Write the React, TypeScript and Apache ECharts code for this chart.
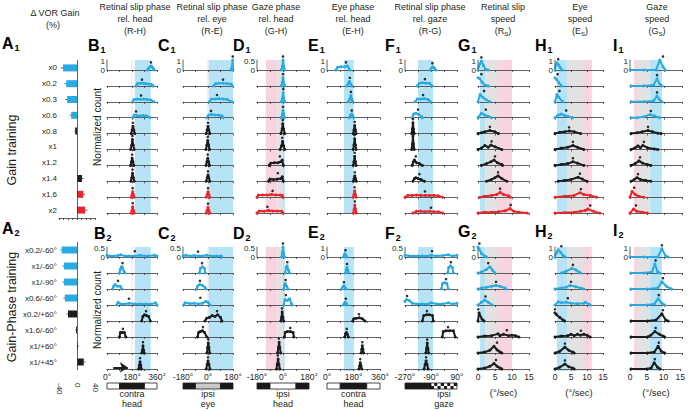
import React, { useEffect, useRef } from 'react';
import * as echarts from 'echarts';

const FONT = '"Liberation Sans", Arial, sans-serif';
const TXT = '#231f20';
const AXIS = '#3a3a3a';
const BLUE = '#29aae1';
const BLACK = '#1c1c1c';
const RED = '#e8262a';
const BAND_COLORS = ['#b6e4f6', '#f8d3e0', '#e2e2e2'];
const STRIP_COLORS = ['#ffffff', '#1a1a1a', '#c8c8c8'];

// ---------- Panel A: change in VOR gain (%) ----------
const gainCats = ['x0', 'x0.2', 'x0.3', 'x0.6', 'x0.8', 'x1', 'x1.2', 'x1.4', 'x1.6', 'x2'];
const gainDelta = [-31, -24, -22, -13, -4, 0, 0.5, 11, 14, 18];
const gainErr = [5, 4, 4, 3, 2, 0.5, 0.5, 3, 4, 5];
const gainGroups = ['b', 'b', 'b', 'b', 'k', 'k', 'k', 'k', 'r', 'r'];

const phaseCats = ['x0.2/-60°', 'x1/-60°', 'x1/-90°', 'x0.6/-60°', 'x0.2/+60°', 'x1.6/-60°', 'x1/+60°', 'x1/+45°'];
const phaseDelta = [-34, -29, -29, -27, -20, -2, 2, 15];
const phaseErr = [3, 3, 3, 3, 3, 2, 2, 4];
const phaseGroups = ['b', 'b', 'b', 'b', 'k', 'k', 'k', 'k'];

const A_MIN = -40;
const A_MAX = 40;
const A_LABEL_STEP = 40;

// ---------- Distributions: [x, normalized count] ----------
// B: retinal slip phase rel. head (deg)
const rhTop = [
  [[290, 0], [300, 0.2], [310, 0.35], [318, 0.45], [326, 0.3], [335, 0.1], [340, 0]],
  [[210, 0], [220, 0.25], [240, 0.3], [260, 0.3], [280, 0.25], [300, 0.2], [320, 0.15], [332, 0]],
  [[185, 0], [195, 0.25], [215, 0.3], [240, 0.25], [265, 0.3], [290, 0.25], [315, 0.2], [338, 0]],
  [[185, 0], [195, 0.3], [215, 0.25], [240, 0.2], [260, 0.25], [285, 0.2], [310, 0]],
  [[174, 0], [181, 0.4], [187, 0.8], [193, 0.4], [200, 0]],
  [[170, 0], [178, 0.5], [183, 1.1], [189, 0.5], [196, 0]],
  [[170, 0], [176, 0.4], [181, 0.8], [187, 0.4], [193, 0]],
  [[172, 0], [178, 0.4], [184, 0.9], [190, 0.4], [196, 0]],
  [[174, 0], [180, 0.3], [185, 0.6], [190, 0.3], [196, 0]],
  [[174, 0], [180, 0.3], [185, 0.7], [190, 0.3], [196, 0]],
];
const rhTopMean = [317, 252, 245, 209, 187, 183, 181, 184, 185, 185];
const rhBottom = [
  [[0, 0.1], [20, 0.05], [50, 0.05], [80, 0.08], [100, 0.12], [130, 0.05], [160, 0.05], [200, 0.05], [240, 0.1], [270, 0.05], [300, 0.05], [340, 0.1], [360, 0.05]],
  [[90, 0], [96, 0.2], [104, 0.35], [112, 0.3], [122, 0.1], [128, 0]],
  [[40, 0], [48, 0.15], [58, 0.25], [75, 0.15], [95, 0.15], [108, 0]],
  [[70, 0], [80, 0.15], [100, 0.05], [130, 0.05], [160, 0.1], [200, 0.05], [240, 0.05], [280, 0.05], [320, 0.05], [350, 0.12], [360, 0]],
  [[250, 0], [258, 0.25], [270, 0.35], [285, 0.3], [300, 0.25], [312, 0]],
  [[90, 0], [96, 0.25], [110, 0.25], [125, 0.25], [136, 0]],
  [[250, 0], [255, 0.15], [259, 0.4], [264, 0.15], [268, 0]],
  [[228, 0], [233, 0.2], [238, 0.4], [243, 0.2], [248, 0]],
];
const rhBottomMean = [200, 112, 79, 158, 281, 115, 259, 238];

// C: retinal slip phase rel. eye (deg)
const reTop = [
  [[165, 0], [172, 0.3], [178, 1.1], [180, 0]],
  [[40, 0], [55, 0.25], [80, 0.3], [110, 0.3], [140, 0.25], [165, 0.2], [175, 0]],
  [[10, 0], [25, 0.3], [50, 0.3], [80, 0.35], [110, 0.3], [140, 0.25], [172, 0]],
  [[-10, 0], [5, 0.3], [25, 0.35], [50, 0.3], [75, 0.3], [100, 0.2], [110, 0]],
  [[-13, 0], [-6, 0.4], [0, 0.8], [6, 0.4], [13, 0]],
  [[-15, 0], [-8, 0.5], [-2, 1.0], [4, 0.5], [11, 0]],
  [[-14, 0], [-8, 0.4], [-2, 0.8], [4, 0.4], [10, 0]],
  [[-13, 0], [-6, 0.4], [0, 0.7], [6, 0.4], [13, 0]],
  [[-13, 0], [-6, 0.3], [0, 0.6], [6, 0.3], [13, 0]],
  [[-13, 0], [-6, 0.3], [0, 0.65], [6, 0.3], [13, 0]],
];
const reTopMean = [178, 108, 65, 22, 0, -2, -2, 0, 0, 0];
const reBottom = [
  [[-180, 0.05], [-160, 0.1], [-130, 0.05], [-100, 0.08], [-70, 0.05], [-40, 0.05], [-10, 0.1], [20, 0.05], [60, 0.05], [95, 0.05], [100, 0]],
  [[-62, 0], [-55, 0.25], [-40, 0.35], [-25, 0.25], [-20, 0]],
  [[-82, 0], [-75, 0.15], [-60, 0.25], [-40, 0.2], [-22, 0.1], [-18, 0]],
  [[-175, 0], [-165, 0.12], [-130, 0.08], [-100, 0.1], [-70, 0.05], [-40, 0.1], [-15, 0.2], [0, 0.15], [14, 0]],
  [[-22, 0], [-10, 0.15], [10, 0.2], [30, 0.3], [50, 0.25], [70, 0.35], [90, 0.2], [100, 0]],
  [[-75, 0], [-68, 0.25], [-55, 0.3], [-40, 0.35], [-25, 0.25], [-8, 0]],
  [[-8, 0], [-3, 0.3], [2, 0.55], [7, 0.3], [12, 0]],
  [[-13, 0], [-6, 0.25], [0, 0.45], [7, 0.25], [14, 0]],
];
const reBottomMean = [-72, -43, -58, -55, 65, -36, 2, 0];

// D: gaze phase rel. head (deg)
const ghTop = [
  [[-12, 0], [-4, 0.2], [0, 0.55], [5, 0.2], [12, 0]],
  [[-12, 0], [-4, 0.2], [0, 0.45], [5, 0.2], [12, 0]],
  [[-12, 0], [-4, 0.2], [1, 0.5], [5, 0.2], [12, 0]],
  [[-12, 0], [-4, 0.2], [0, 0.4], [5, 0.2], [12, 0]],
  [[-14, 0], [-6, 0.25], [-2, 0.55], [4, 0.25], [12, 0]],
  [[-20, 0], [-10, 0.2], [-3, 0.45], [4, 0.2], [12, 0]],
  [[-95, 0], [-85, 0.12], [-60, 0.15], [-35, 0.15], [-15, 0.2], [-5, 0.3], [2, 0]],
  [[-100, 0], [-90, 0.12], [-65, 0.1], [-40, 0.12], [-15, 0.15], [-5, 0.25], [2, 0]],
  [[-180, 0], [-170, 0.12], [-140, 0.12], [-110, 0.12], [-80, 0.15], [-50, 0.12], [-20, 0.12], [-5, 0.1], [0, 0]],
  [[-180, 0], [-165, 0.12], [-130, 0.1], [-100, 0.15], [-70, 0.12], [-40, 0.12], [-10, 0.1], [0, 0]],
];
const ghTopMean = [0, 0, 2, 0, -2, -5, -22, -36, -72, -108];
const ghBottom = [
  [[-10, 0], [-4, 0.25], [0, 0.55], [5, 0.2], [12, 0]],
  [[15, 0], [22, 0.3], [28, 0.4], [38, 0.15], [45, 0]],
  [[5, 0], [10, 0.2], [15, 0.3], [25, 0.15], [35, 0]],
  [[5, 0], [14, 0.3], [30, 0.25], [45, 0.35], [57, 0.1], [62, 0]],
  [[-15, 0], [-10, 0.2], [-6, 0.5], [-1, 0.2], [5, 0]],
  [[10, 0], [15, 0.25], [30, 0.3], [50, 0.3], [70, 0.25], [75, 0]],
  [[-38, 0], [-32, 0.3], [-27, 0.6], [-22, 0.3], [-16, 0]],
  [[-45, 0], [-40, 0.25], [-34, 0.55], [-28, 0.25], [-22, 0]],
];
const ghBottomMean = [0, 30, 18, 20, -7, 50, -29, -36];

// E: eye phase rel. head (deg)
const ehTop = [
  [[60, 0], [72, 0.3], [95, 0.35], [120, 0.35], [140, 0.45], [156, 0]],
  [[135, 0], [145, 0.3], [152, 0.5], [160, 0.2], [168, 0]],
  [[145, 0], [155, 0.3], [162, 0.7], [168, 0.3], [175, 0]],
  [[150, 0], [160, 0.3], [168, 0.4], [175, 0.2], [182, 0]],
  [[178, 0], [183, 0.4], [188, 0.9], [193, 0.4], [198, 0]],
  [[178, 0], [183, 0.5], [188, 1.2], [193, 0.5], [198, 0]],
  [[178, 0], [183, 0.4], [188, 1.0], [193, 0.4], [198, 0]],
  [[179, 0], [184, 0.3], [189, 0.6], [194, 0.3], [199, 0]],
  [[178, 0], [183, 0.3], [188, 0.7], [193, 0.3], [198, 0]],
  [[179, 0], [184, 0.4], [189, 0.9], [194, 0.4], [199, 0]],
];
const ehTopMean = [129, 155, 162, 168, 188, 188, 188, 189, 188, 189];
const ehBottom = [
  [[112, 0], [118, 0.25], [122, 0.35], [128, 0.2], [134, 0]],
  [[125, 0], [130, 0.35], [136, 0.6], [142, 0.3], [148, 0]],
  [[100, 0], [108, 0.25], [115, 0.35], [122, 0.2], [130, 0]],
  [[112, 0], [118, 0.2], [124, 0.3], [130, 0.15], [136, 0]],
  [[175, 0], [182, 0.25], [200, 0.3], [220, 0.35], [240, 0.25], [258, 0]],
  [[120, 0], [126, 0.35], [132, 0.5], [138, 0.3], [145, 0]],
  [[232, 0], [236, 0.4], [240, 0.8], [244, 0.4], [248, 0]],
  [[217, 0], [222, 0.35], [226, 0.7], [231, 0.35], [236, 0]],
];
const ehBottomMean = [125, 136, 115, 128, 217, 134, 240, 226];

// F: retinal slip phase rel. gaze (deg)
const rgTop = [
  [[-95, 0], [-85, 0.25], [-75, 0.35], [-65, 0.2], [-58, 0]],
  [[-185, 0], [-170, 0.3], [-150, 0.35], [-125, 0.3], [-100, 0.3], [-83, 0]],
  [[-200, 0], [-185, 0.3], [-160, 0.3], [-135, 0.35], [-110, 0.25], [-95, 0]],
  [[-220, 0], [-210, 0.4], [-195, 0.5], [-175, 0.35], [-155, 0.1], [-150, 0]],
  [[-224, 0], [-219, 0.5], [-215, 1.2], [-211, 0.5], [-206, 0]],
  [[-224, 0], [-219, 0.6], [-215, 1.5], [-211, 0.6], [-206, 0]],
  [[-220, 0], [-212, 0.4], [-205, 0.6], [-190, 0.3], [-170, 0.2], [-150, 0]],
  [[-215, 0], [-205, 0.3], [-195, 0.4], [-180, 0.3], [-160, 0.2], [-135, 0]],
  [[-270, 0], [-250, 0.2], [-220, 0.2], [-190, 0.25], [-160, 0.2], [-130, 0.2], [-100, 0.2], [-70, 0.2], [-40, 0.15], [-10, 0]],
  [[-215, 0], [-190, 0.2], [-160, 0.2], [-130, 0.15], [-100, 0.2], [-70, 0.15], [-40, 0.15], [-10, 0]],
];
const rgTopMean = [-80, -132, -145, -180, -215, -215, -195, -170, -132, -90];
const rgBottom = [
  [[-270, 0.1], [-240, 0.05], [-210, 0.05], [-180, 0.05], [-150, 0.05], [-110, 0.05], [-90, 0.1], [-50, 0.05], [-10, 0.08], [30, 0.12], [60, 0.05], [90, 0.1]],
  [[25, 0], [32, 0.3], [45, 0.4], [58, 0.3], [65, 0]],
  [[-18, 0], [-10, 0.3], [5, 0.35], [20, 0.3], [30, 0]],
  [[-270, 0.2], [-260, 0.3], [-240, 0.25], [-220, 0.1], [-190, 0.05], [-150, 0.05], [-110, 0.05], [-90, 0.12], [-50, 0.05], [-10, 0.05], [30, 0.12], [60, 0.05], [90, 0.1]],
  [[-150, 0], [-140, 0.3], [-120, 0.35], [-100, 0.35], [-80, 0.3], [-74, 0]],
  [[-12, 0], [-5, 0.3], [15, 0.35], [40, 0.35], [65, 0.35], [78, 0]],
  [[-126, 0], [-121, 0.25], [-116, 0.55], [-111, 0.25], [-106, 0]],
  [[-138, 0], [-131, 0.25], [-124, 0.45], [-117, 0.25], [-110, 0]],
];
const rgBottomMean = [-83, 48, 14, -256, -118, 28, -116, -124];

// G: retinal slip speed (deg/s)
const rsTop = [
  [[0, 0], [0.5, 0.7], [1, 1.0], [1.6, 0.5], [2.2, 0.1], [3, 0]],
  [[0, 0.9], [0.5, 0.8], [1.2, 0.4], [2, 0.1], [3, 0]],
  [[0, 0], [0.6, 0.8], [1.4, 0.5], [2.3, 0.25], [3.5, 0]],
  [[0, 0], [1, 0.5], [2, 0.3], [3, 0.15], [4, 0]],
  [[0, 0], [1, 0.1], [2, 0.2], [3.5, 0.35], [5, 0.2], [6, 0]],
  [[0, 0], [1, 0.15], [2, 0.45], [3, 0.25], [3.8, 0.5], [5, 0.3], [7, 0]],
  [[1, 0], [2.5, 0.2], [3.8, 0.4], [4.7, 0.6], [5.7, 0.3], [7, 0.1], [7.2, 0]],
  [[2.5, 0], [4, 0.2], [5, 0.4], [5.9, 0.6], [7, 0.3], [8.5, 0]],
  [[0.5, 0], [2, 0.1], [4, 0.2], [5.5, 0.3], [6.5, 0.55], [7.5, 0.3], [9, 0.15], [9.5, 0]],
  [[0, 0], [2, 0.1], [4, 0.1], [6, 0.15], [8, 0.25], [9.4, 0.5], [10.5, 0.2], [12, 0.1], [14.5, 0]],
];
const rsTopMean = [1, 1, 1.8, 2.3, 3.5, 4, 5, 5.9, 6.5, 9.6];
const rsBottom = [
  [[0, 1.1], [0.3, 0.9], [1, 0.4], [2, 0.1], [2.5, 0]],
  [[0, 0], [1, 0.1], [2.5, 0.4], [3.5, 0.7], [4.3, 0.3], [5, 0]],
  [[0, 0], [1, 0.1], [2.5, 0.2], [4, 0.3], [5.3, 0.4], [6.5, 0.3], [8, 0.1], [8.2, 0]],
  [[0, 0], [1, 0.3], [2, 0.55], [3, 0.3], [4.2, 0]],
  [[0, 0], [0.3, 0.9], [1.2, 0.2], [1.8, 0]],
  [[0, 0], [2, 0.1], [4, 0.15], [5.9, 0.35], [6.5, 0.15], [7.5, 0.3], [9, 0.15], [10, 0.2], [11, 0.15], [12, 0]],
  [[0, 0], [2, 0.1], [3.5, 0.3], [4.7, 0.75], [5.6, 0.35], [6.5, 0.1], [7, 0]],
  [[0, 0], [2, 0.1], [3.5, 0.3], [4.7, 0.6], [5.6, 0.3], [6.5, 0.1], [7, 0]],
];
const rsBottomMean = [0.4, 3, 5.3, 2.2, 0.1, 8.5, 5.6, 5.3];

// H: eye speed (deg/s)
const esTop = [
  [[0, 0], [0.4, 0.8], [1, 0.6], [1.6, 0.3], [2.2, 0]],
  [[0, 0.9], [0.5, 0.7], [1.2, 0.35], [2, 0]],
  [[0, 0], [0.6, 0.8], [1.2, 0.5], [2.4, 0]],
  [[0, 0], [1, 0.3], [2, 0.4], [3, 0.25], [4, 0.15], [5.5, 0]],
  [[0, 0], [1.5, 0.15], [3, 0.2], [4.5, 0.3], [6, 0.2], [8, 0]],
  [[0, 0], [2, 0.15], [4, 0.25], [5.6, 0.45], [7, 0.25], [9, 0]],
  [[0, 0], [2, 0.1], [4, 0.2], [5.6, 0.4], [7, 0.25], [9, 0]],
  [[1, 0], [3, 0.1], [5, 0.2], [7.2, 0.45], [8.5, 0.25], [10, 0]],
  [[0, 0], [3, 0.1], [6, 0.2], [7.8, 0.5], [9, 0.3], [11, 0.2], [13, 0]],
  [[0, 0], [3, 0.05], [6, 0.1], [8, 0.2], [9.5, 0.3], [10.3, 0.45], [12, 0.2], [14, 0]],
];
const esTopMean = [1, 0.8, 1.4, 3.5, 4.4, 5.6, 5.6, 7.8, 8.1, 11];
const esBottom = [
  [[0, 0], [0.5, 0.5], [1, 0.8], [1.8, 0.5], [2.5, 0.2], [3.2, 0]],
  [[2, 0], [3.5, 0.2], [5.3, 0.5], [6.5, 0.35], [7.5, 0.1], [8, 0]],
  [[0, 0], [2, 0.1], [3.5, 0.2], [4.7, 0.4], [6.5, 0.25], [8, 0.1], [9, 0]],
  [[0, 0], [1, 0.35], [2, 0.25], [3.5, 0.3], [5, 0.2], [7, 0.15], [9, 0.2], [9.5, 0.3], [10.5, 0.1], [11, 0]],
  [[0, 0.9], [0.5, 0.7], [1.5, 0.4], [2.5, 0.1], [3, 0]],
  [[0, 0], [2, 0.1], [4, 0.15], [5, 0.3], [6, 0.15], [7, 0.3], [8, 0.2], [9, 0.3], [10, 0.2], [11, 0]],
  [[0, 0], [1.5, 0.2], [3.1, 0.65], [4.3, 0.3], [5.5, 0.1], [6, 0]],
  [[0, 0], [1.5, 0.2], [3.1, 0.55], [4.3, 0.25], [5.5, 0.1], [6, 0]],
];
const esBottomMean = [2, 5.6, 5, 4, 0, 8.1, 3.1, 3.1];

// I: gaze speed (deg/s)
const gsTop = [
  [[0, 0], [4, 0], [7.5, 0], [8.6, 1.1], [9.6, 0.3], [10.2, 0]],
  [[0.3, 0], [4, 0], [6.8, 0.1], [7.8, 0.8], [8.6, 0.2], [9.2, 0]],
  [[0.3, 0], [4, 0], [6.8, 0.1], [7.8, 0.65], [8.6, 0.2], [9.2, 0]],
  [[0.3, 0], [2, 0], [4, 0.1], [5.8, 0.35], [7, 0.2], [8.5, 0]],
  [[0.3, 0], [2, 0.1], [3.5, 0.2], [5.2, 0.35], [6.5, 0.2], [8, 0.05], [9, 0]],
  [[0.3, 0], [1.5, 0.2], [2.3, 0.4], [3, 0.2], [3.7, 0.45], [5, 0.2], [7, 0.05], [8, 0]],
  [[0.3, 0], [1.5, 0.2], [2.6, 0.5], [3.6, 0.25], [5, 0.1], [6, 0]],
  [[0.3, 0], [1.2, 0.2], [2, 0.4], [3, 0.2], [4.5, 0.1], [6, 0]],
  [[0, 0], [0.6, 0.65], [1.5, 0.3], [2.5, 0.1], [4, 0]],
  [[0, 0], [1, 0.45], [2, 0.2], [3.5, 0.1], [5, 0]],
];
const gsTopMean = [9.5, 7.8, 7.8, 6, 5.2, 4, 2.9, 2.3, 1.2, 1.7];
const gsBottom = [
  [[0, 0], [4, 0], [8, 0], [9.2, 0.9], [10.3, 0.1], [11, 0]],
  [[0.3, 0], [4, 0], [6.3, 0.1], [7.2, 1.0], [8, 0.1], [8.5, 0]],
  [[0.3, 0], [5, 0], [8, 0.1], [9.2, 0.8], [10.5, 0.3], [12, 0]],
  [[0.3, 0], [5, 0], [7, 0.1], [8.1, 0.7], [9.2, 0.2], [10, 0]],
  [[0.3, 0], [5, 0], [7.5, 0.1], [9.2, 0.8], [10.3, 0.1], [11, 0]],
  [[0.3, 0], [5, 0], [6, 0.2], [7.2, 0.6], [8.5, 0.3], [9.5, 0.1], [10, 0]],
  [[0.3, 0], [5, 0], [7, 0.1], [8.1, 0.75], [9, 0.2], [10, 0]],
  [[0.3, 0], [5, 0], [6.3, 0.1], [7.2, 0.7], [8.2, 0.2], [9, 0]],
];
const gsBottomMean = [9.2, 7.4, 9.5, 8.3, 9.5, 7.4, 8.3, 7.4];

// Shaded ranges: [from, to, colour index (0 blue, 1 pink, 2 gray)]
const rhBands = [[177, 183, 1], [200, 315, 0]];
const reBands = [[-3, 3, 1], [5, 180, 0]];
const ghBands = [[-120, -38, 1], [-38, 0, 2], [0, 12, 0]];
const ehBands = [[115, 182, 0]];
const rgBands = [[-180, -75, 0]];
const rsBands = [[0.6, 2.1, 0], [2.1, 5.6, 2], [5.6, 10, 1]];
const esBands = [[0.6, 3.75, 0], [3.75, 8.75, 2], [8.75, 11.5, 1]];
const gsBands = [[1.2, 2, 1], [2, 5.8, 2], [5.8, 9.2, 0]];

// Direction strips: [from, to, kind (0 white, 1 black, 2 gray, 3 checker)]
const rhStrip = [[0, 90, 0], [90, 270, 1], [270, 360, 0]];
const reStrip = [[-180, -90, 1], [-90, 90, 2], [90, 180, 1]];
const ghStrip = [[-180, -90, 1], [-90, 90, 0], [90, 180, 1]];
const ehStrip = [[0, 90, 0], [90, 270, 1], [270, 360, 0]];
const rgStrip = [[-270, -90, 1], [-90, 90, 3]];

const phaseLabels360 = [0, 180, 360];
const phaseLabels180 = [-180, 0, 180];
const phaseLabelsGaze = [-270, -90, 90];
const speedLabels = [0, 5, 10, 15];

const topGroups = ['b', 'b', 'b', 'b', 'k', 'k', 'k', 'k', 'r', 'r'];
const bottomGroups = ['b', 'b', 'b', 'b', 'k', 'k', 'k', 'k'];

const colorOf = (g: string) => (g === 'b' ? BLUE : g === 'r' ? RED : BLACK);

const columns = [
  { key: 'rh', left: 107, width: 50, min: 0, max: 360, interval: 90, labels: phaseLabels360, unit: '°', bands: rhBands,
    top: { data: rhTop, mean: rhTopMean, scale: 1 }, bottom: { data: rhBottom, mean: rhBottomMean, scale: 0.5 },
    strip: rhStrip, stripText: ['contra', 'head'], stripTextAt: 180 },
  { key: 're', left: 183, width: 50, min: -180, max: 180, interval: 90, labels: phaseLabels180, unit: '°', bands: reBands,
    top: { data: reTop, mean: reTopMean, scale: 1 }, bottom: { data: reBottom, mean: reBottomMean, scale: 0.5 },
    strip: reStrip, stripText: ['ipsi', 'eye'], stripTextAt: 0 },
  { key: 'gh', left: 257, width: 52, min: -180, max: 180, interval: 90, labels: phaseLabels180, unit: '°', bands: ghBands,
    top: { data: ghTop, mean: ghTopMean, scale: 0.5 }, bottom: { data: ghBottom, mean: ghBottomMean, scale: 0.5 },
    strip: ghStrip, stripText: ['ipsi', 'head'], stripTextAt: 0 },
  { key: 'eh', left: 327, width: 53, min: 0, max: 360, interval: 90, labels: phaseLabels360, unit: '°', bands: ehBands,
    top: { data: ehTop, mean: ehTopMean, scale: 1 }, bottom: { data: ehBottom, mean: ehBottomMean, scale: 1 },
    strip: ehStrip, stripText: ['contra', 'head'], stripTextAt: 180 },
  { key: 'rg', left: 405, width: 52, min: -270, max: 90, interval: 90, labels: phaseLabelsGaze, unit: '°', bands: rgBands,
    top: { data: rgTop, mean: rgTopMean, scale: 1 }, bottom: { data: rgBottom, mean: rgBottomMean, scale: 0.5 },
    strip: rgStrip, stripText: ['ipsi', 'gaze'], stripTextAt: 0 },
  { key: 'rs', left: 478, width: 51, min: 0, max: 15, interval: 5, labels: speedLabels, unit: '', bands: rsBands,
    top: { data: rsTop, mean: rsTopMean, scale: 1 }, bottom: { data: rsBottom, mean: rsBottomMean, scale: 1 },
    strip: null, stripText: null, stripTextAt: 0 },
  { key: 'es', left: 555, width: 48, min: 0, max: 15, interval: 5, labels: speedLabels, unit: '', bands: esBands,
    top: { data: esTop, mean: esTopMean, scale: 1 }, bottom: { data: esBottom, mean: esBottomMean, scale: 1 },
    strip: null, stripText: null, stripTextAt: 0 },
  { key: 'gs', left: 630, width: 52, min: 0, max: 15, interval: 5, labels: speedLabels, unit: '', bands: gsBands,
    top: { data: gsTop, mean: gsTopMean, scale: 1 }, bottom: { data: gsBottom, mean: gsBottomMean, scale: 1 },
    strip: null, stripText: null, stripTextAt: 0 },
];

const titles = [
  { x: 135, lines: ['Retinal slip phase', 'rel. head', '(R-H)'] },
  { x: 212, lines: ['Retinal slip phase', 'rel. eye', '(R-E)'] },
  { x: 276, lines: ['Gaze phase', 'rel. head', '(G-H)'] },
  { x: 353, lines: ['Eye phase', 'rel. head', '(E-H)'] },
  { x: 430, lines: ['Retinal slip phase', 'rel. gaze', '(R-G)'] },
  { x: 503, lines: ['Retinal slip', 'speed', '(R{s|S})'] },
  { x: 580, lines: ['Eye', 'speed', '(E{s|S})'] },
  { x: 657, lines: ['Gaze', 'speed', '(G{s|S})'] },
];

const panelLetters = [
  ['A', '1', 2, 48], ['B', '1', 88, 50], ['C', '1', 158, 50], ['D', '1', 233, 50], ['E', '1', 308, 50],
  ['F', '1', 385, 50], ['G', '1', 458, 50], ['H', '1', 535, 50], ['I', '1', 613, 50],
  ['A', '2', 2, 233], ['B', '2', 94, 238], ['C', '2', 158, 238], ['D', '2', 233, 238], ['E', '2', 308, 237],
  ['F', '2', 385, 238], ['G', '2', 458, 236], ['H', '2', 535, 236], ['I', '2', 613, 235],
];

function bandRender(params: any, api: any) {
  const a = api.coord([api.value(0), 0]);
  const b = api.coord([api.value(1), 0]);
  const cs = params.coordSys;
  return {
    type: 'rect',
    shape: { x: a[0], y: cs.y, width: b[0] - a[0], height: cs.height },
    style: { fill: BAND_COLORS[api.value(2)] },
  };
}

function stripRender(params: any, api: any) {
  const a = api.coord([api.value(0), 0]);
  const b = api.coord([api.value(1), 0]);
  const cs = params.coordSys;
  const kind = api.value(2);
  const x = a[0];
  const w = b[0] - a[0];
  if (kind === 3) {
    const n = Math.max(2, Math.round(w / 3.2));
    const cw = w / n;
    const ch = cs.height / 2;
    const children: any[] = [];
    for (let i = 0; i < n; i++) {
      for (let j = 0; j < 2; j++) {
        children.push({ type: 'rect', shape: { x: x + i * cw, y: cs.y + j * ch, width: cw, height: ch },
          style: { fill: (i + j) % 2 ? '#1a1a1a' : '#ffffff' } });
      }
    }
    children.push({ type: 'rect', shape: { x, y: cs.y, width: w, height: cs.height },
      style: { fill: 'none', stroke: '#1a1a1a', lineWidth: 0.8 } });
    return { type: 'group', children };
  }
  return { type: 'rect', shape: { x, y: cs.y, width: w, height: cs.height },
    style: { fill: STRIP_COLORS[kind], stroke: '#1a1a1a', lineWidth: 0.8 } };
}

function textEl(x: number, y: number, text: string, size: number) {
  return {
    type: 'text', x, y, silent: true, z: 10,
    style: {
      text, fill: TXT, fontSize: size, fontFamily: FONT,
      textAlign: 'center', textVerticalAlign: 'middle',
      rich: { s: { fontSize: size * 0.68, fontFamily: FONT, fill: TXT, padding: [5, 0, 0, 0] } },
    },
  };
}

function buildOption() {
  const grid: any[] = [];
  const xAxis: any[] = [];
  const yAxis: any[] = [];
  const series: any[] = [];
  const graphic: any[] = [];

  const add = (g: any, x: any, y: any) => {
    const i = grid.length;
    grid.push({ ...g, containLabel: false });
    xAxis.push({ gridIndex: i, ...x });
    yAxis.push({ gridIndex: i, ...y });
    return i;
  };

  // ---- Panel A bar charts ----
  const barPanel = (cats: string[], vals: number[], errs: number[], groups: string[], top: number, height: number, bottomAxis: boolean) => {
    const i = add(
      { left: 59, width: 36, top, height },
      bottomAxis
        ? {
            type: 'value', min: A_MIN, max: A_MAX, interval: 10,
            axisLine: { show: true, onZero: false, lineStyle: { color: AXIS, width: 0.8 } },
            axisTick: { show: true, length: 2, lineStyle: { color: AXIS, width: 0.8 } },
            splitLine: { show: false },
            axisLabel: { show: false },
          }
        : {
            type: 'value', min: A_MIN, max: A_MAX, interval: A_LABEL_STEP,
            axisLine: { show: false, onZero: false }, axisTick: { show: false }, splitLine: { show: false },
            axisLabel: {
              show: true, rotate: -90, fontSize: 8, margin: 13, color: TXT, fontFamily: FONT,
              showMinLabel: true, showMaxLabel: true, hideOverlap: false,
            },
          },
      {
        type: 'category', data: cats, inverse: true,
        axisLine: { show: false }, axisTick: { show: false },
        axisLabel: { fontSize: 8, margin: 2, color: TXT, fontFamily: FONT },
      }
    );
    series.push({
      type: 'bar', xAxisIndex: i, yAxisIndex: i, barWidth: 7, z: 3, silent: true,
      data: vals.map((v, k) => ({ value: v, itemStyle: { color: colorOf(groups[k]) } })),
      markLine: {
        silent: true, symbol: 'none', label: { show: false },
        lineStyle: { color: AXIS, width: 0.8, type: 'solid' }, data: [{ xAxis: 0 }],
      },
    });
    series.push({
      type: 'custom', xAxisIndex: i, yAxisIndex: i, z: 4, silent: true,
      data: vals.map((v, k) => [v, k, errs[k]]),
      renderItem: (_p: any, api: any) => {
        const v = api.value(0);
        const k = api.value(1);
        const e = api.value(2);
        const s = v < 0 ? -1 : 1;
        const a = api.coord([v, k]);
        const b = api.coord([v + s * e, k]);
        return { type: 'line', shape: { x1: a[0], y1: a[1], x2: b[0], y2: b[1] }, style: { stroke: '#555', lineWidth: 1 } };
      },
    });
  };
  barPanel(gainCats, gainDelta, gainErr, gainGroups, 60, 158, true);
  barPanel(phaseCats, phaseDelta, phaseErr, phaseGroups, 242, 128, false);

  // ---- Distribution panels ----
  columns.forEach((col) => {
    [0, 1].forEach((h) => {
      const half = h === 0 ? col.top : col.bottom;
      const groups = h === 0 ? topGroups : bottomGroups;
      const n = half.data.length;
      const base0 = h === 0 ? 70 : 257;
      const step = h === 0 ? 15.9 : 16;
      const bandTop = h === 0 ? 60 : 247;
      const bandBottom = h === 0 ? 214 : 371;
      const bi = add(
        { left: col.left, width: col.width, top: bandTop, height: bandBottom - bandTop },
        { type: 'value', min: col.min, max: col.max, show: false },
        { type: 'value', min: 0, max: 1, show: false }
      );
      series.push({ type: 'custom', xAxisIndex: bi, yAxisIndex: bi, z: 0, silent: true, data: col.bands, renderItem: bandRender });

      const scale = half.scale;
      const ymax = (scale * 14) / 9;
      half.data.forEach((dist: number[][], r: number) => {
        const base = base0 + r * step;
        const last = h === 1 && r === n - 1;
        const gi = add(
          { left: col.left, width: col.width, top: base - 14, height: 14 },
          {
            type: 'value', min: col.min, max: col.max, interval: col.interval, z: 3,
            axisLine: { show: true, onZero: false, lineStyle: { color: AXIS, width: 0.8 } },
            axisTick: { show: true, length: 2, lineStyle: { color: AXIS, width: 0.8 } },
            splitLine: { show: false },
            axisLabel: last
              ? { show: true, customValues: col.labels, formatter: (v: number) => `${v}${col.unit}`, fontSize: 8.5, margin: 3, color: TXT, fontFamily: FONT }
              : { show: false },
          },
          {
            type: 'value', min: 0, max: ymax, show: r === 0,
            axisLine: { show: false }, axisTick: { show: false }, splitLine: { show: false },
            axisLabel: { show: r === 0, customValues: [0, scale], formatter: (v: number) => String(v), fontSize: 8, margin: 2, color: TXT, fontFamily: FONT },
          }
        );
        const c = colorOf(groups[r]);
        const distSeries: any = {
          type: 'line', xAxisIndex: gi, yAxisIndex: gi, data: dist, z: 5, silent: true, clip: false,
          symbol: 'circle', symbolSize: 3, showSymbol: true,
          lineStyle: { color: c, width: 2 }, itemStyle: { color: c },
        };
        if (col.key === 'rh' && last) {
          distSeries.markLine = {
            silent: true, symbol: ['none', 'arrow'], symbolSize: 8, label: { show: false },
            lineStyle: { color: BLACK, width: 2, type: 'solid' },
            data: [[{ coord: [45, 0.09] }, { coord: [150, 0.09] }]],
          };
        }
        series.push(distSeries);
        const peak = Math.max(...dist.map((p) => p[1]));
        series.push({
          type: 'scatter', xAxisIndex: gi, yAxisIndex: gi, z: 6, silent: true, clip: false,
          symbolSize: 2.6, itemStyle: { color: '#000' },
          data: [[half.mean[r], peak + scale * 0.4]],
        });
        if (r === 0) {
          series.push({
            type: 'line', xAxisIndex: gi, yAxisIndex: gi, z: 5, silent: true, clip: false, symbol: 'none',
            lineStyle: { color: AXIS, width: 0.8 }, data: [[col.min, 0], [col.min, scale * 1.15]],
          });
        }
      });
    });

    const cx = (v: number) => col.left + ((v - col.min) / (col.max - col.min)) * col.width;
    if (col.strip) {
      const si = add(
        { left: col.left, width: col.width, top: 383, height: 6 },
        { type: 'value', min: col.min, max: col.max, show: false },
        { type: 'value', min: 0, max: 1, show: false }
      );
      series.push({ type: 'custom', xAxisIndex: si, yAxisIndex: si, z: 2, silent: true, data: col.strip, renderItem: stripRender });
      const tx = cx(col.stripTextAt);
      graphic.push(textEl(tx, 394, col.stripText![0], 9));
      graphic.push(textEl(tx, 404, col.stripText![1], 9));
    } else {
      graphic.push(textEl(col.left + col.width / 2, 392, '(°/sec)', 9.5));
    }
  });

  // ---- Texts ----
  graphic.push(textEl(55, 13, 'Δ VOR Gain', 9));
  graphic.push(textEl(53, 25, '(%)', 9));
  titles.forEach((t) => {
    t.lines.forEach((line, k) => graphic.push(textEl(t.x, 7 + k * 12, line, 9)));
  });
  graphic.push({ ...textEl(12, 150, 'Gain training', 12.5), rotation: Math.PI / 2 });
  graphic.push({ ...textEl(12, 307, 'Gain-Phase training', 12.5), rotation: Math.PI / 2 });
  graphic.push({ ...textEl(97, 127, 'Normalized count', 10), rotation: Math.PI / 2 });
  graphic.push({ ...textEl(97, 310, 'Normalized count', 10), rotation: Math.PI / 2 });
  panelLetters.forEach(([L, s, x, y]) => {
    graphic.push({
      type: 'text', x: x as number, y: (y as number) + 4, silent: true, z: 10,
      style: {
        text: `{L|${L}}{s|${s}}`, textAlign: 'left', textVerticalAlign: 'bottom', fill: '#000',
        rich: {
          L: { fontSize: 16, fontWeight: 'bold', fontFamily: FONT, fill: '#000' },
          s: { fontSize: 9, fontWeight: 'bold', fontFamily: FONT, fill: '#000', padding: [9, 0, 0, 1] },
        },
      },
    });
  });

  return {
    animation: false,
    backgroundColor: '#ffffff',
    textStyle: { fontFamily: FONT },
    grid, xAxis, yAxis, series, graphic,
  };
}

export default function App() {
  const ref = useRef<HTMLDivElement>(null);
  useEffect(() => {
    const chart = echarts.init(ref.current!, undefined, { renderer: 'svg' });
    chart.setOption(buildOption() as any);
    return () => chart.dispose();
  }, []);
  return (
    <div
      ref={ref}
      style={{ position: 'absolute', left: 0, top: 0, width: 688, height: 411, background: '#fff' }}
    />
  );
}
